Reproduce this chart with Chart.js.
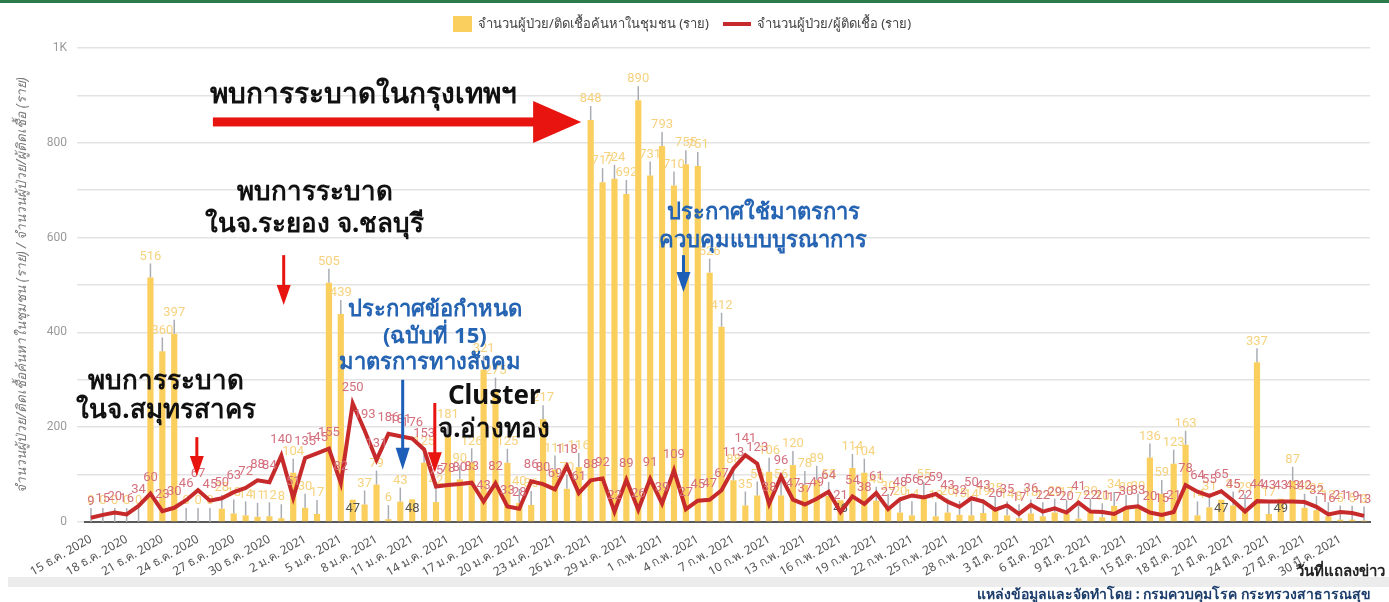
<!DOCTYPE html>
<html>
<head>
<meta charset="utf-8">
<script src="https://cdn.jsdelivr.net/npm/chart.js@4.4.1/dist/chart.umd.min.js"></script>
<style>
  body { margin: 0; background: #fff; }
  #wrap { position: relative; width: 1389px; height: 602px; overflow: hidden; font-family: "Noto Sans", Roboto, sans-serif; }
  #topbar { position: absolute; left: 0; top: 0; width: 1389px; height: 3px; background: #2d7a4b; }
  #chart { position: absolute; left: 0; top: 0; }
  #legend { position: absolute; top: 13px; left: 453px; font-size: 13px; color: #444; display: flex; align-items: center; white-space: nowrap; }
  #legend .box { display: inline-block; width: 19px; height: 16px; background: #fbcf5d; margin-right: 6px; }
  #legend .ln { display: inline-block; width: 28px; height: 4px; background: #c62a2a; margin: 0 6px 0 14px; }
  #band { position: absolute; left: 8px; top: 577px; width: 1381px; height: 10px; background: #ececec; }
  #xtitle { position: absolute; right: 4px; top: 559px; font-size: 15px; font-weight: bold; color: #222; }
  #source { position: absolute; right: 18px; top: 583px; font-size: 14px; font-weight: bold; color: #1c3d6b; }
</style>
</head>
<body>
<div id="wrap">
  <canvas id="chart" width="1389" height="602"></canvas>
  <div id="topbar"></div>
  <div id="legend"><span class="box"></span>จำนวนผู้ป่วย/ติดเชื้อค้นหาในชุมชน (ราย)<span class="ln"></span>จำนวนผู้ป่วย/ผู้ติดเชื้อ (ราย)</div>
  <div id="band"></div>
  <div id="xtitle">วันที่แถลงข่าว</div>
  <div id="source">แหล่งข้อมูลและจัดทำโดย : กรมควบคุมโรค กระทรวงสาธารณสุข</div>
</div>
<script>
// วันที่แถลงข่าว 15 ธ.ค. 2020 - 1 เม.ย. 2021
var days = [
  "15 ธ.ค. 2020","16 ธ.ค. 2020","17 ธ.ค. 2020","18 ธ.ค. 2020","19 ธ.ค. 2020","20 ธ.ค. 2020","21 ธ.ค. 2020","22 ธ.ค. 2020","23 ธ.ค. 2020",
  "24 ธ.ค. 2020","25 ธ.ค. 2020","26 ธ.ค. 2020","27 ธ.ค. 2020","28 ธ.ค. 2020","29 ธ.ค. 2020","30 ธ.ค. 2020","31 ธ.ค. 2020",
  "1 ม.ค. 2021","2 ม.ค. 2021","3 ม.ค. 2021","4 ม.ค. 2021","5 ม.ค. 2021","6 ม.ค. 2021","7 ม.ค. 2021","8 ม.ค. 2021","9 ม.ค. 2021",
  "10 ม.ค. 2021","11 ม.ค. 2021","12 ม.ค. 2021","13 ม.ค. 2021","14 ม.ค. 2021","15 ม.ค. 2021","16 ม.ค. 2021","17 ม.ค. 2021",
  "18 ม.ค. 2021","19 ม.ค. 2021","20 ม.ค. 2021","21 ม.ค. 2021","22 ม.ค. 2021","23 ม.ค. 2021","24 ม.ค. 2021","25 ม.ค. 2021",
  "26 ม.ค. 2021","27 ม.ค. 2021","28 ม.ค. 2021","29 ม.ค. 2021","30 ม.ค. 2021","31 ม.ค. 2021",
  "1 ก.พ. 2021","2 ก.พ. 2021","3 ก.พ. 2021","4 ก.พ. 2021","5 ก.พ. 2021","6 ก.พ. 2021","7 ก.พ. 2021","8 ก.พ. 2021","9 ก.พ. 2021",
  "10 ก.พ. 2021","11 ก.พ. 2021","12 ก.พ. 2021","13 ก.พ. 2021","14 ก.พ. 2021","15 ก.พ. 2021","16 ก.พ. 2021","17 ก.พ. 2021",
  "18 ก.พ. 2021","19 ก.พ. 2021","20 ก.พ. 2021","21 ก.พ. 2021","22 ก.พ. 2021","23 ก.พ. 2021","24 ก.พ. 2021","25 ก.พ. 2021",
  "26 ก.พ. 2021","27 ก.พ. 2021","28 ก.พ. 2021",
  "1 มี.ค. 2021","2 มี.ค. 2021","3 มี.ค. 2021","4 มี.ค. 2021","5 มี.ค. 2021","6 มี.ค. 2021","7 มี.ค. 2021","8 มี.ค. 2021","9 มี.ค. 2021",
  "10 มี.ค. 2021","11 มี.ค. 2021","12 มี.ค. 2021","13 มี.ค. 2021","14 มี.ค. 2021","15 มี.ค. 2021","16 มี.ค. 2021","17 มี.ค. 2021",
  "18 มี.ค. 2021","19 มี.ค. 2021","20 มี.ค. 2021","21 มี.ค. 2021","22 มี.ค. 2021","23 มี.ค. 2021","24 มี.ค. 2021","25 มี.ค. 2021",
  "26 มี.ค. 2021","27 มี.ค. 2021","28 มี.ค. 2021","29 มี.ค. 2021","30 มี.ค. 2021","31 มี.ค. 2021",
  "1 เม.ย. 2021"
];

// ผู้ป่วย/ติดเชื้อค้นหาในชุมชน (bars)
var communityCases = [
  0, 0, 0, 0, 0, 516, 360, 397, 0, 0, 0, 28, 18, 14, 11, 12, 8,
  104, 30, 17, 505, 439, 47, 37, 79, 6, 43, 48, 125, 42, 181, 90, 126, 321, 275, 125, 40, 36, 217, 111, 70, 116,
  848, 717, 724, 692, 890, 731, 793, 710, 755, 751, 526, 412,
  88, 35, 56, 106, 56, 120, 78, 89, 55, 46, 114, 104, 45, 30, 20, 14, 55, 12, 20, 15, 14, 19,
  25, 14, 8, 18, 12, 20, 17, 7, 20, 10, 34, 28, 30, 136, 59, 123, 163, 14, 31, 47, 35, 29, 337, 17, 49, 87, 30, 25, 12, 5, 5, 3
];

// ผู้ป่วย/ผู้ติดเชื้อ (line)
var confirmedCases = [
  9, 15, 20, 16, 34, 60, 23, 30, 46, 67, 45, 50, 63, 72, 88, 84, 140,
  51, 135, 145, 155, 82, 250, 193, 131, 186, 181, 176, 153, 75, 78, 80, 83, 43, 82, 33, 28, 86, 80, 69, 118, 61,
  88, 92, 22, 89, 26, 91, 39, 109, 27, 45, 47, 67,
  113, 141, 123, 38, 96, 47, 37, 49, 64, 21, 54, 38, 61, 27, 48, 56, 52, 59, 43, 32, 50, 43,
  26, 35, 17, 36, 22, 29, 20, 41, 22, 21, 17, 30, 33, 20, 15, 21, 78, 64, 55, 65, 45, 22, 44, 43, 43, 43, 42, 32, 16, 21, 19, 13
];

// bars whose value label sits low inside the bar (dark text)
var lowLabelDays = [22, 27, 63, 95, 100];

var yTicks = [0, 200, 400, 600, 800, 1000];

// annotations: x in day index, y in axis value
var notes = [
  { text: "พบการระบาดในกรุงเทพฯ", x: 22.9, y: 900, size: 28, color: "#111" },
  { text: "พบการระบาด", x: 18.8, y: 694, size: 26, color: "#111" },
  { text: "ในจ.ระยอง จ.ชลบุรี", x: 18.8, y: 627, size: 26, color: "#111" },
  { text: "ประกาศข้อกำหนด", x: 28.9, y: 447, size: 22, color: "#2563b3" },
  { text: "(ฉบับที่ 15)", x: 28.9, y: 390, size: 22, color: "#2563b3" },
  { text: "มาตรการทางสังคม", x: 28.5, y: 336, size: 22, color: "#2563b3" },
  { text: "Cluster", x: 33.9, y: 264, size: 26, color: "#111" },
  { text: "จ.อ่างทอง", x: 33.9, y: 194, size: 26, color: "#111" },
  { text: "พบการระบาด", x: 6.3, y: 297, size: 26, color: "#111" },
  { text: "ในจ.สมุทรสาคร", x: 6.3, y: 234, size: 26, color: "#111" },
  { text: "ประกาศใช้มาตรการ", x: 56.5, y: 652, size: 22, color: "#2563b3" },
  { text: "ควบคุมแบบบูรณาการ", x: 56.5, y: 593, size: 22, color: "#2563b3" }
];
var arrows = [
  { x1: 10.25, y1: 844, x2: 41.2, y2: 844, shaft: 9, head: 42, headLen: 48, color: "#e8140f" },
  { x1: 16.2, y1: 563, x2: 16.2, y2: 458, shaft: 3, head: 14, headLen: 20, color: "#e8140f" },
  { x1: 26.2, y1: 300, x2: 26.2, y2: 110, shaft: 3, head: 14, headLen: 22, color: "#1d5fb8" },
  { x1: 28.9, y1: 251, x2: 28.9, y2: 105, shaft: 3, head: 14, headLen: 20, color: "#e8140f" },
  { x1: 8.9, y1: 179, x2: 8.9, y2: 97, shaft: 3, head: 14, headLen: 20, color: "#e8140f" },
  { x1: 49.8, y1: 563, x2: 49.8, y2: 485, shaft: 3, head: 14, headLen: 20, color: "#1d5fb8" }
];

var labelFont = "13px Roboto, sans-serif";

var valueLabels = {
  id: "valueLabels",
  afterDatasetDraw: function (chart, args) {
    if (args.index !== 0) return;
    var ctx = chart.ctx;
    var base = chart.scales.y.getPixelForValue(0);
    ctx.save();
    ctx.font = labelFont;
    ctx.textAlign = "center";
    ctx.textBaseline = "middle";
    args.meta.data.forEach(function (bar, i) {
      var v = communityCases[i];
      if (lowLabelDays.indexOf(i) >= 0) {
        ctx.fillStyle = "#555";
        ctx.fillText(v, bar.x, base - 13);
        return;
      }
      ctx.strokeStyle = "#a9acb3";
      ctx.lineWidth = 1.5;
      ctx.beginPath();
      ctx.moveTo(bar.x, bar.y);
      ctx.lineTo(bar.x, bar.y - 14);
      ctx.stroke();
      ctx.fillStyle = "#f6d27e";
      ctx.fillText(v, bar.x, bar.y - 21);
    });
    ctx.restore();
  },
  afterDatasetsDraw: function (chart) {
    var ctx = chart.ctx;
    var meta = chart.getDatasetMeta(1);
    ctx.save();
    ctx.font = labelFont;
    ctx.textAlign = "center";
    ctx.textBaseline = "middle";
    meta.data.forEach(function (pt, i) {
      ctx.fillStyle = "#d4707d";
      ctx.fillText(confirmedCases[i], pt.x, pt.y - 16);
    });
    ctx.restore();
  }
};

function drawArrow(ctx, x1, y1, x2, y2, shaft, head, headLen, color) {
  var ang = Math.atan2(y2 - y1, x2 - x1);
  var len = Math.hypot(x2 - x1, y2 - y1);
  ctx.save();
  ctx.translate(x1, y1);
  ctx.rotate(ang);
  ctx.fillStyle = color;
  ctx.fillRect(0, -shaft / 2, len - headLen + 1, shaft);
  ctx.beginPath();
  ctx.moveTo(len, 0);
  ctx.lineTo(len - headLen, -head / 2);
  ctx.lineTo(len - headLen, head / 2);
  ctx.closePath();
  ctx.fill();
  ctx.restore();
}

var annotations = {
  id: "annotations",
  afterDraw: function (chart) {
    var ctx = chart.ctx, sx = chart.scales.x, sy = chart.scales.y;
    var px = function (i) { return sx.getPixelForValue(0) + i * (sx.getPixelForValue(1) - sx.getPixelForValue(0)); };
    ctx.save();
    arrows.forEach(function (a) {
      drawArrow(ctx, px(a.x1), sy.getPixelForValue(a.y1), px(a.x2), sy.getPixelForValue(a.y2), a.shaft, a.head, a.headLen, a.color);
    });
    ctx.textAlign = "center";
    ctx.textBaseline = "middle";
    notes.forEach(function (n) {
      ctx.font = "bold " + n.size + "px 'Noto Sans', sans-serif";
      ctx.fillStyle = n.color;
      ctx.fillText(n.text, px(n.x), sy.getPixelForValue(n.y));
    });
    ctx.restore();
  }
};

new Chart(document.getElementById("chart"), {
  type: "bar",
  data: {
    labels: days,
    datasets: [
      {
        type: "bar",
        label: "จำนวนผู้ป่วย/ติดเชื้อค้นหาในชุมชน (ราย)",
        data: communityCases,
        backgroundColor: "#fbcf5d",
        barPercentage: 0.52,
        categoryPercentage: 1.0,
        order: 2
      },
      {
        type: "line",
        label: "จำนวนผู้ป่วย/ผู้ติดเชื้อ (ราย)",
        data: confirmedCases,
        borderColor: "#c62a2a",
        borderWidth: 4,
        pointRadius: 0,
        tension: 0,
        order: 1
      }
    ]
  },
  plugins: [valueLabels, annotations],
  options: {
    responsive: false,
    animation: false,
    layout: { padding: { top: 48, right: 19, left: 0, bottom: 0 } },
    plugins: { legend: { display: false }, tooltip: { enabled: false } },
    scales: {
      x: {
        offset: true,
        grid: { display: false },
        border: { display: true, color: "#5a5a5a", width: 2 },
        ticks: {
          autoSkip: false,
          maxRotation: 30,
          minRotation: 30,
          color: "#555",
          font: { size: 12, family: "'Noto Sans', Roboto, sans-serif" },
          padding: 2,
          callback: function (v, i) { return i % 3 === 0 ? days[i] : ""; }
        },
        afterFit: function (s) { s.height = 80; }
      },
      y: {
        min: 0,
        max: 1000,
        grid: { color: "#e3e3e3", lineWidth: 1.5, tickLength: 8 },
        border: { display: false },
        ticks: {
          stepSize: 100,
          color: "#9a9a9a",
          font: { size: 12, family: "Roboto, sans-serif" },
          padding: 10,
          callback: function (v) {
            if (yTicks.indexOf(v) < 0) return "";
            return v === 1000 ? "1K" : v;
          }
        },
        title: {
          display: true,
          text: "จำนวนผู้ป่วย/ติดเชื้อค้นหาในชุมชน (ราย) / จำนวนผู้ป่วย/ผู้ติดเชื้อ (ราย)",
          color: "#7a7a7a",
          font: { size: 13.5, style: "italic", family: "'Noto Sans', sans-serif" },
          padding: { top: 14, bottom: 0 }
        },
        afterFit: function (s) { s.width = 85; }
      }
    }
  }
});
</script>
</body>
</html>
